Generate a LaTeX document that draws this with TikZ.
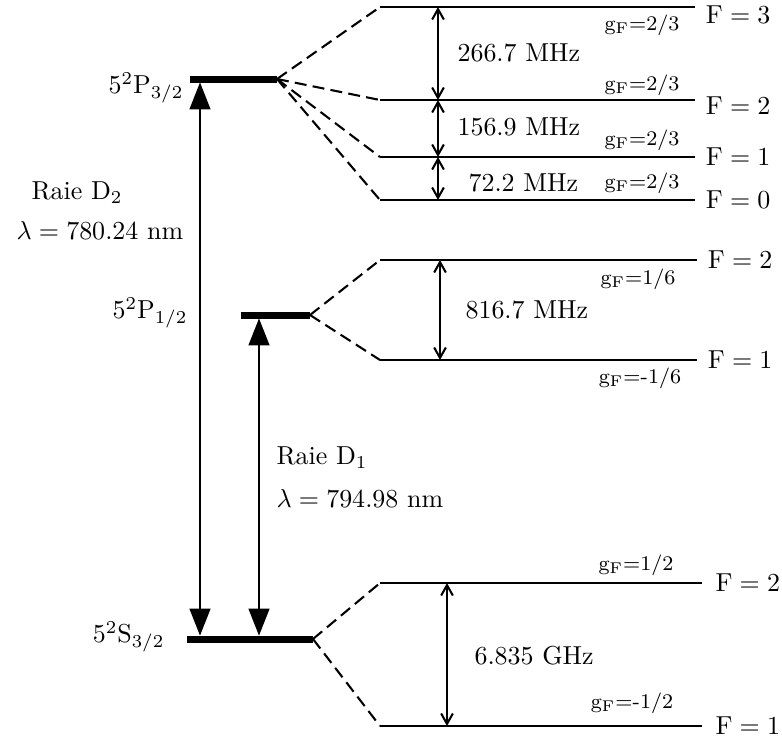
\documentclass[tikz,border=0pt]{standalone}
\usepackage{amsmath}
\usepackage{tikz}
\usetikzlibrary{arrows.meta, positioning, calc}

\begin{document}
\begin{tikzpicture}[
  x=0.385pt, y=-0.385pt,
  mainlevel/.style={line width=2.7pt},
  finelevel/.style={line width=1pt},
  split/.style={dash pattern=on 4.6pt off 2.4pt, line width=0.8pt},
  transition/.style={
    {Triangle[length=10.4pt,width=8pt]}-{Triangle[length=10.4pt,width=8pt]},
    line width=0.8pt, shorten <=1.3pt, shorten >=1.3pt
  },
  gap/.style={
    {Straight Barb[length=4pt,width=4.5pt,line width=0.8pt]}-{Straight Barb[length=4pt,width=4.5pt,line width=0.8pt]},
    line width=0.4pt
  },
  flabel/.style={anchor=west, inner sep=0pt},
  glabel/.style={font=\footnotesize, inner sep=0pt},
  txt/.style={inner sep=0pt},
]
  \useasboundingbox (0,0) rectangle (782,744);

  \coordinate (p32a) at (190,79);  \coordinate (p32b) at (277,79);
  \coordinate (p12a) at (241,315); \coordinate (p12b) at (310,315);
  \coordinate (sa)   at (187,639); \coordinate (sb)   at (313,639);

  \coordinate (pf3) at (380,7);   \coordinate (pf3e) at (695,7);
  \coordinate (pf2) at (380,100); \coordinate (pf2e) at (695,100);
  \coordinate (pf1) at (380,157); \coordinate (pf1e) at (695,157);
  \coordinate (pf0) at (380,200); \coordinate (pf0e) at (695,200);
  \coordinate (qf2) at (380,260); \coordinate (qf2e) at (697,260);
  \coordinate (qf1) at (380,360); \coordinate (qf1e) at (697,360);
  \coordinate (sf2) at (380,583); \coordinate (sf2e) at (702,583);
  \coordinate (sf1) at (380,726); \coordinate (sf1e) at (702,726);

  \coordinate (d2) at (200,0);
  \coordinate (d1) at (259,0);
  \coordinate (gp) at (438,0);
  \coordinate (gq) at (440,0);
  \coordinate (gs) at (447,0);

  \draw[mainlevel] (p32a) -- (p32b);
  \draw[mainlevel] (p12a) -- (p12b);
  \draw[mainlevel] (sa) -- (sb);

  \draw[finelevel] (pf3) -- (pf3e);
  \draw[finelevel] (pf2) -- (pf2e);
  \draw[finelevel] (pf1) -- (pf1e);
  \draw[finelevel] (pf0) -- (pf0e);
  \draw[finelevel] (qf2) -- (qf2e);
  \draw[finelevel] (qf1) -- (qf1e);
  \draw[finelevel] (sf2) -- (sf2e);
  \draw[finelevel] (sf1) -- (sf1e);

  \draw[split] (p32b) -- (pf3);
  \draw[split] (p32b) -- (pf2);
  \draw[split] (p32b) -- (pf1);
  \draw[split] (p32b) -- (pf0);
  \draw[split] (p12b) -- (qf2);
  \draw[split] (p12b) -- (qf1);
  \draw[split] (sb) -- (sf2);
  \draw[split] (sb) -- (sf1);

  \draw[transition] (sa -| d2) -- (p32a -| d2);
  \draw[transition] (sa -| d1) -- (p12a -| d1);

  \draw[gap] (pf3 -| gp) -- (pf2 -| gp);
  \draw[gap] (pf2 -| gp) -- (pf1 -| gp);
  \draw[gap] (pf1 -| gp) -- (pf0 -| gp);
  \draw[gap] (qf2 -| gq) -- (qf1 -| gq);
  \draw[gap] (sf2 -| gs) -- (sf1 -| gs);

  \node[txt, anchor=east] (lp32) at (184,88)  {$5^2\mathrm{P}_{3/2}$};
  \node[txt, anchor=east] (lp12) at (188,313) {$5^2\mathrm{P}_{1/2}$};
  \node[txt, anchor=east] (ls)   at (165,637) {$5^2\mathrm{S}_{3/2}$};

  \node[txt, anchor=west] (rd2) at (31,193)  {Raie D$_2$};
  \node[txt, anchor=west] (ld2) at (16,230)  {$\lambda = 780.24$ nm};
  \node[txt, anchor=west] (rd1) at (276,458) {Raie D$_1$};
  \node[txt, anchor=west] (ld1) at (276,498) {$\lambda = 794.98$ nm};

  \node[txt, anchor=west] (hp3) at (457,53)  {266.7 MHz};
  \node[txt, anchor=west] (hp2) at (457,127) {156.9 MHz};
  \node[txt, anchor=west] (hp1) at (468,183) {72.2 MHz};
  \node[txt, anchor=west] (hq)  at (465,310) {816.7 MHz};
  \node[txt, anchor=west] (hs)  at (474,656) {6.835 GHz};

  \node[flabel, right=4pt of pf3e, yshift=-3pt] {$\mathrm{F}=3$};
  \node[flabel, right=4pt of pf2e, yshift=-2pt] {$\mathrm{F}=2$};
  \node[flabel, right=4pt of pf1e] {$\mathrm{F}=1$};
  \node[flabel, right=4pt of pf0e] {$\mathrm{F}=0$};
  \node[flabel, right=4pt of qf2e] {$\mathrm{F}=2$};
  \node[flabel, right=4pt of qf1e] {$\mathrm{F}=1$};
  \node[flabel, right=5pt of sf2e] {$\mathrm{F}=2$};
  \node[flabel, right=5pt of sf1e] {$\mathrm{F}=1$};

  \node[glabel] (g3) at (642,25)  {g\textsubscript{F}=2/3};
  \node[glabel] (g2) at (642,85)  {g\textsubscript{F}=2/3};
  \node[glabel] (g1) at (642,140) {g\textsubscript{F}=2/3};
  \node[glabel] (g0) at (642,183) {g\textsubscript{F}=2/3};
  \node[glabel] (gq2) at (638,279) {g\textsubscript{F}=1/6};
  \node[glabel] (gq1) at (640,378) {g\textsubscript{F}=-1/6};
  \node[glabel] (gs2) at (636,565) {g\textsubscript{F}=1/2};
  \node[glabel] (gs1) at (632,703) {g\textsubscript{F}=-1/2};
\end{tikzpicture}
\end{document}
